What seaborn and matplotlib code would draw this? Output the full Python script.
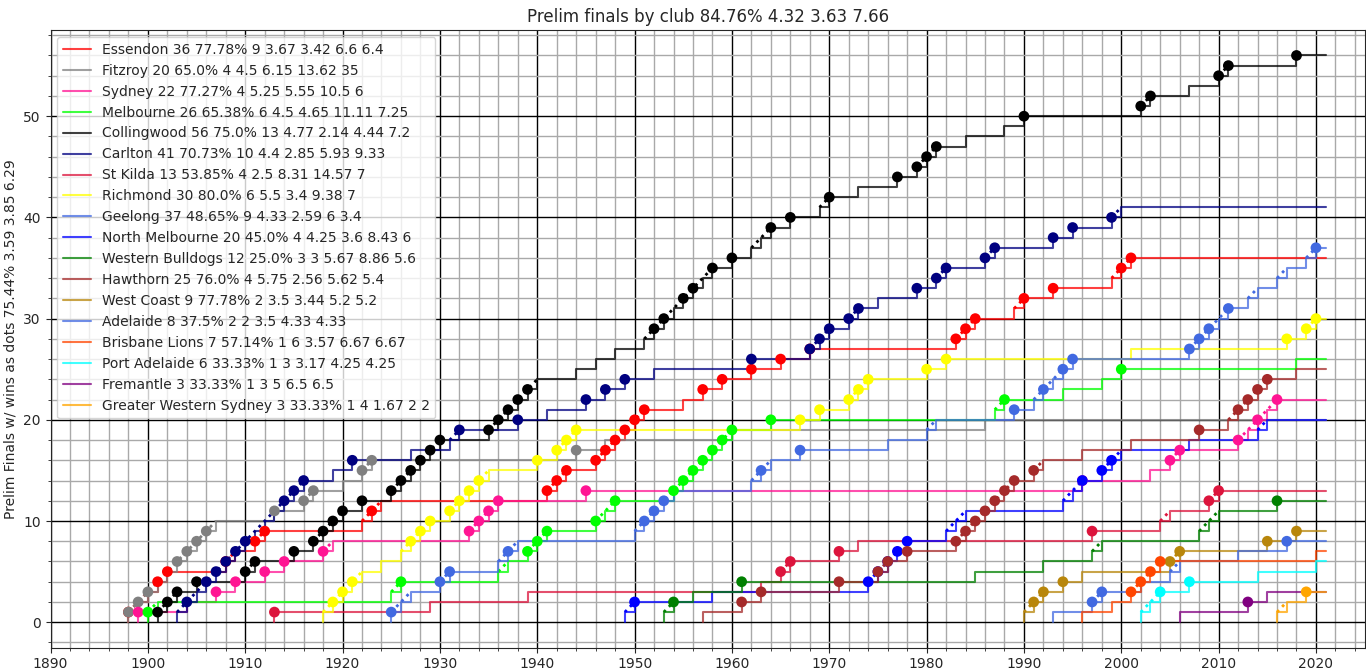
import matplotlib
matplotlib.use("Agg")
import matplotlib.pyplot as plt
import seaborn as sns
import pandas as pd
from matplotlib.ticker import MultipleLocator

clubs = ["Essendon", "Fitzroy", "Sydney", "Melbourne", "Collingwood", "Carlton", "St Kilda",
         "Richmond", "Geelong", "North Melbourne", "Western Bulldogs", "Hawthorn", "West Coast",
         "Adelaide", "Brisbane Lions", "Port Adelaide", "Fremantle", "Greater Western Sydney"]
colors = ["red", "grey", "deeppink", "lime", "black", "navy", "crimson", "yellow", "royalblue",
          "blue", "green", "brown", "darkgoldenrod", "royalblue", "orangered", "cyan", "purple", "orange"]
stats = ["36 77.78% 9 3.67 3.42 6.6 6.4", "20 65.0% 4 4.5 6.15 13.62 35", "22 77.27% 4 5.25 5.55 10.5 6",
         "26 65.38% 6 4.5 4.65 11.11 7.25", "56 75.0% 13 4.77 2.14 4.44 7.2", "41 70.73% 10 4.4 2.85 5.93 9.33",
         "13 53.85% 4 2.5 8.31 14.57 7", "30 80.0% 6 5.5 3.4 9.38 7", "37 48.65% 9 4.33 2.59 6 3.4",
         "20 45.0% 4 4.25 3.6 8.43 6", "12 25.0% 3 3 5.67 8.86 5.6", "25 76.0% 4 5.75 2.56 5.62 5.4",
         "9 77.78% 2 3.5 3.44 5.2 5.2", "8 37.5% 2 2 3.5 4.33 4.33", "7 57.14% 1 6 3.57 6.67 6.67",
         "6 33.33% 1 3 3.17 4.25 4.25", "3 33.33% 1 3 5 6.5 6.5", "3 33.33% 1 4 1.67 2 2"]

# prelim final wins (dots) and losses per club
wins = {
    "Essendon": [1898, 1901, 1902, 1908, 1911, 1912, 1923, 1941, 1942, 1943, 1946, 1947, 1948, 1949, 1950, 1951,
                 1957, 1959, 1962, 1965, 1968, 1983, 1984, 1985, 1990, 1993, 2000, 2001],
    "Fitzroy": [1898, 1899, 1900, 1903, 1904, 1905, 1906, 1913, 1916, 1917, 1922, 1923, 1944],
    "Sydney": [1899, 1907, 1909, 1912, 1914, 1918, 1933, 1934, 1935, 1936, 1945, 1996, 2005, 2006, 2012, 2014, 2016],
    "Melbourne": [1900, 1926, 1939, 1940, 1941, 1946, 1948, 1954, 1955, 1956, 1957, 1958, 1959, 1960, 1964, 1988, 2000],
    "Collingwood": [1901, 1902, 1903, 1905, 1910, 1911, 1915, 1917, 1918, 1919, 1920, 1922, 1925, 1926, 1927, 1928,
                    1929, 1930, 1935, 1936, 1937, 1938, 1939, 1952, 1953, 1955, 1956, 1958, 1960, 1964, 1966, 1970,
                    1977, 1979, 1980, 1981, 1990, 2002, 2003, 2010, 2011, 2018],
    "Carlton": [1904, 1906, 1907, 1908, 1909, 1910, 1914, 1915, 1916, 1921, 1932, 1938, 1945, 1947, 1949, 1962, 1968,
                1969, 1970, 1972, 1973, 1979, 1981, 1982, 1986, 1987, 1993, 1995, 1999],
    "St Kilda": [1913, 1965, 1966, 1971, 1997, 2009, 2010],
    "Richmond": [1919, 1920, 1921, 1927, 1928, 1929, 1931, 1932, 1933, 1934, 1940, 1942, 1943, 1944, 1967, 1969,
                 1972, 1973, 1974, 1980, 1982, 2017, 2019, 2020],
    "Geelong": [1925, 1930, 1931, 1937, 1951, 1952, 1953, 1963, 1967, 1989, 1992, 1994, 1995, 2007, 2008, 2009, 2011, 2020],
    "North Melbourne": [1950, 1974, 1975, 1976, 1977, 1978, 1996, 1998, 1999],
    "Western Bulldogs": [1954, 1961, 2016],
    "Hawthorn": [1961, 1963, 1971, 1975, 1976, 1978, 1983, 1984, 1985, 1986, 1987, 1988, 1989, 1991, 2008, 2012,
                 2013, 2014, 2015],
    "West Coast": [1991, 1992, 1994, 2005, 2006, 2015, 2018],
    "Adelaide": [1997, 1998, 2017],
    "Brisbane Lions": [2001, 2002, 2003, 2004],
    "Port Adelaide": [2004, 2007],
    "Fremantle": [2013],
    "Greater Western Sydney": [2019],
}
losses = {
    "Essendon": [1899, 1900, 1909, 1922, 1924, 1955, 1989, 1999],
    "Fitzroy": [1901, 1902, 1907, 1920, 1947, 1960, 1986],
    "Sydney": [1904, 1919, 2003, 2013, 2015],
    "Melbourne": [1901, 1925, 1936, 1937, 1947, 1987, 1994, 1998, 2018],
    "Collingwood": [1940, 1944, 1946, 1948, 1951, 1954, 1957, 1962, 1963, 1969, 1973, 1984, 1988, 2007],
    "Carlton": [1903, 1905, 1911, 1912, 1913, 1919, 1927, 1931, 1941, 1952, 1975, 2000],
    "St Kilda": [1929, 1939, 1963, 1973, 2004, 2005],
    "Richmond": [1918, 1922, 1924, 1926, 1935, 2001],
    "Geelong": [1926, 1927, 1936, 1938, 1950, 1954, 1962, 1964, 1976, 1980, 1981, 1991, 1993, 2010, 2013, 2014,
                2016, 2017, 2019],
    "North Melbourne": [1949, 1958, 1982, 1983, 1984, 1994, 1995, 2000, 2007, 2014, 2015],
    "Western Bulldogs": [1953, 1956, 1985, 1992, 1997, 1998, 2008, 2009, 2010],
    "Hawthorn": [1957, 1992, 1996, 2001, 2011, 2018],
    "West Coast": [1990, 1996],
    "Adelaide": [1993, 2002, 2005, 2006, 2012],
    "Brisbane Lions": [1996, 1999, 2020],
    "Port Adelaide": [2002, 2003, 2014, 2020],
    "Fremantle": [2006, 2015],
    "Greater Western Sydney": [2016, 2017],
}

sns.set_style("white")
fig, ax = plt.subplots(figsize=(13.66, 6.71), dpi=100)

for club, col, st in zip(clubs, colors, stats):
    years = sorted(wins[club] + losses[club])
    df = pd.DataFrame({"year": years, "count": range(1, len(years) + 1)})
    sx = [years[0]] + years + [2021]
    sy = [0] + list(df["count"]) + [len(years)]
    ax.step(sx, sy, where="post", color=col, alpha=0.75, lw=1.5, label=f"{club} {st}")
    # dotted line through consecutive-year streaks
    seg = [0]
    for i in range(1, len(years) + 1):
        if i == len(years) or years[i] != years[i - 1] + 1:
            if i - seg[0] > 1:
                part = df.iloc[seg[0]:i]
                ax.plot(part["year"], part["count"], ls=":", color=col, lw=2)
            seg = [i]
    w = df[df["year"].isin(wins[club])]
    sns.scatterplot(x=w["year"], y=w["count"], color=col, s=60, edgecolor="none", ax=ax, zorder=3)

ax.set_xlim(1890, 2025)
ax.set_ylim(-2.5, 58.5)
ax.xaxis.set_major_locator(MultipleLocator(10))
ax.xaxis.set_minor_locator(MultipleLocator(2))
ax.yaxis.set_major_locator(MultipleLocator(10))
ax.yaxis.set_minor_locator(MultipleLocator(2))
ax.grid(which="major", color="black", lw=1)
ax.grid(which="minor", color="darkgrey", lw=1)
ax.set_axisbelow(True)
ax.tick_params(which="both", direction="out", bottom=True, left=True)
ax.set_xlabel("")
ax.set_ylabel("Prelim Finals w/ wins as dots 75.44% 3.59 3.85 6.29")
ax.set_title("Prelim finals by club 84.76% 4.32 3.63 7.66")
ax.legend(loc="upper left", fontsize=10)
fig.subplots_adjust(left=0.037, right=0.999, top=0.955, bottom=0.035)
fig.savefig("out.png", dpi=100)
